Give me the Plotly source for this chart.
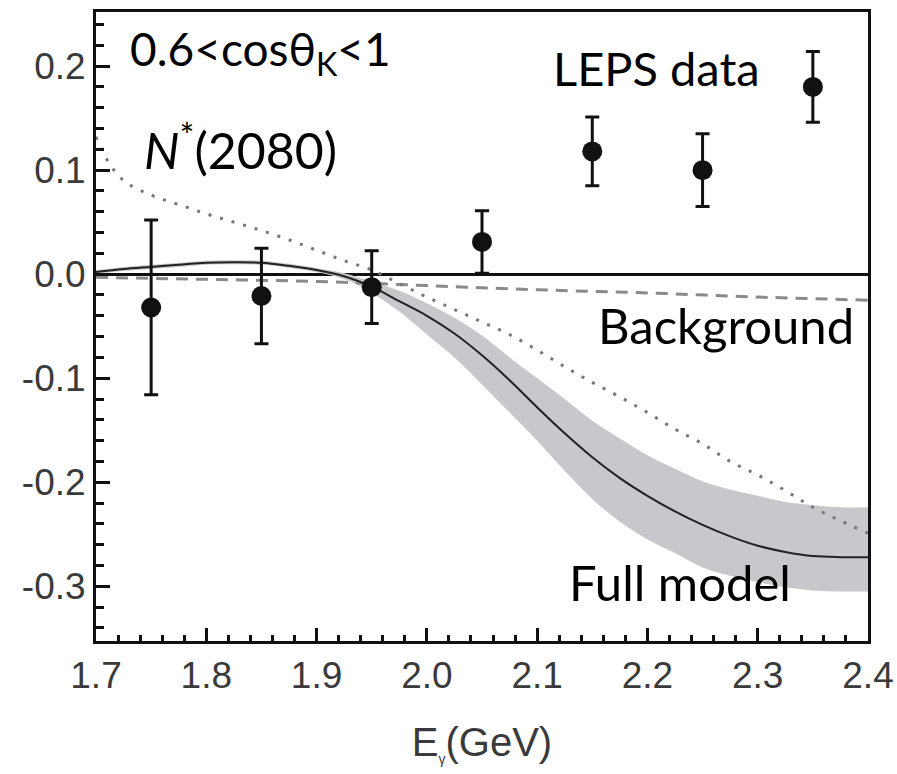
import plotly.graph_objects as go

# ---- data ----
data_E = [1.75, 1.85, 1.95, 2.05, 2.15, 2.25, 2.35]
data_val = [-0.032, -0.021, -0.0125, 0.031, 0.118, 0.100, 0.180]
data_err = [0.084, 0.046, 0.035, 0.030, 0.033, 0.035, 0.034]

E_grid = [1.700, 1.725, 1.750, 1.775, 1.800, 1.825, 1.850, 1.875, 1.900, 1.925,
          1.950, 1.975, 2.000, 2.025, 2.050, 2.075, 2.100, 2.125, 2.150, 2.175,
          2.200, 2.225, 2.250, 2.275, 2.300, 2.325, 2.350, 2.375, 2.400]
full_model = [0.002, 0.005, 0.007, 0.009, 0.011, 0.0115, 0.011, 0.008, 0.004, -0.002,
              -0.012, -0.026, -0.040, -0.057, -0.078, -0.102, -0.128, -0.153, -0.176, -0.196,
              -0.213, -0.228, -0.241, -0.252, -0.261, -0.267, -0.271, -0.272, -0.272]
band_hi = [0.004, 0.007, 0.009, 0.011, 0.013, 0.0135, 0.013, 0.010, 0.006, 0.001,
           -0.007, -0.016, -0.028, -0.042, -0.059, -0.080, -0.100, -0.120, -0.141, -0.158,
           -0.174, -0.187, -0.199, -0.207, -0.213, -0.219, -0.222, -0.224, -0.224]
band_lo = [0.000, 0.003, 0.005, 0.007, 0.009, 0.0095, 0.009, 0.006, 0.002, -0.005,
           -0.018, -0.036, -0.058, -0.080, -0.106, -0.133, -0.160, -0.189, -0.216, -0.238,
           -0.255, -0.268, -0.282, -0.290, -0.296, -0.301, -0.304, -0.305, -0.305]

nstar_E = [1.700, 1.710, 1.725, 1.750, 1.775, 1.800, 1.825, 1.850, 1.875, 1.900,
           1.925, 1.950, 1.975, 2.000, 2.025, 2.050, 2.075, 2.100, 2.125, 2.150,
           2.175, 2.200, 2.225, 2.250, 2.275, 2.300, 2.325, 2.350, 2.375, 2.400]
nstar = [0.132, 0.110, 0.090, 0.076, 0.067, 0.058, 0.050, 0.042, 0.033, 0.023,
         0.013, 0.004, -0.009, -0.022, -0.034, -0.046, -0.058, -0.073, -0.089, -0.104,
         -0.118, -0.133, -0.149, -0.163, -0.180, -0.193, -0.208, -0.224, -0.237, -0.249]

bg_E = [1.70, 1.80, 1.90, 2.00, 2.10, 2.20, 2.30, 2.40]
background = [-0.003, -0.005, -0.007, -0.011, -0.015, -0.018, -0.022, -0.025]

x_ticks = [1.7, 1.8, 1.9, 2.0, 2.1, 2.2, 2.3, 2.4]
x_ticklabels = ["1.7", "1.8", "1.9", "2.0", "2.1", "2.2", "2.3", "2.4"]
y_ticks = [-0.3, -0.2, -0.1, 0.0, 0.1, 0.2]
y_ticklabels = ["-0.3", "-0.2", "-0.1", "0.0", "0.1", "0.2"]

fig = go.Figure()

# band
fig.add_trace(go.Scatter(x=E_grid, y=band_hi, mode="lines", line=dict(width=0, shape="spline"),
                         showlegend=False, hoverinfo="skip"))
fig.add_trace(go.Scatter(x=E_grid, y=band_lo, mode="lines", line=dict(width=0, shape="spline"),
                         fill="tonexty", fillcolor="rgb(200,200,204)", showlegend=False, hoverinfo="skip"))
# background dashed
fig.add_trace(go.Scatter(x=bg_E, y=background, mode="lines",
                         line=dict(color="#8a8a8a", width=3, dash="12px,8px", shape="spline"),
                         showlegend=False))
# N* dotted
fig.add_trace(go.Scatter(x=nstar_E, y=nstar, mode="lines",
                         line=dict(color="#777777", width=3, dash="3px,9px", shape="spline"),
                         showlegend=False))
# full model
fig.add_trace(go.Scatter(x=E_grid, y=full_model, mode="lines",
                         line=dict(color="#222222", width=2, shape="spline"),
                         showlegend=False))
# data
fig.add_trace(go.Scatter(x=data_E, y=data_val, mode="markers",
                         marker=dict(color="#111111", size=20),
                         error_y=dict(type="data", array=data_err, color="#111111", thickness=3, width=7),
                         showlegend=False))

tickfont = dict(family="Liberation Sans", size=37, color="#3a3a3a")
fig.update_layout(
    width=897, height=774,
    margin=dict(l=96, r=29, t=12, b=133, autoexpand=False),
    paper_bgcolor="white", plot_bgcolor="white",
    xaxis=dict(range=[1.7, 2.4], tickvals=x_ticks, ticktext=x_ticklabels, automargin=False,
               ticks="inside", ticklen=13, tickwidth=3, tickcolor="#111",
               showline=True, linecolor="#111", linewidth=3, mirror=True,
               showgrid=False, zeroline=False, tickfont=tickfont,
               minor=dict(dtick=0.02, tick0=1.7, ticks="inside", ticklen=6, tickwidth=3, tickcolor="#111"),
               title=dict(text="E<sub><span style='font-size:14px'>γ</span></sub>(GeV)",
                          font=dict(family="Liberation Sans", size=40, color="#3a3a3a"), standoff=33)),
    yaxis=dict(range=[-0.3526, 0.252], tickvals=y_ticks, ticktext=y_ticklabels, automargin=False,
               ticks="inside", ticklen=14, tickwidth=3, tickcolor="#111",
               showline=True, linecolor="#111", linewidth=3, mirror=True,
               showgrid=False, zeroline=True, zerolinecolor="#111", zerolinewidth=3,
               tickfont=tickfont, ticklabelstandoff=0,
               minor=dict(dtick=0.02, tick0=0, ticks="inside", ticklen=8, tickwidth=3, tickcolor="#111")),
)

def px2paper(x, y):
    return (x - 96) / 772.0, (641 - y) / 629.0

anns = [
    ("0.6&lt;cosθ<sub>K</sub>&lt;1", 128, 52, 46),
    ("<i>N</i><sup>*</sup>(2080)", 142, 146, 50),
    ("LEPS data", 551, 68, 47),
    ("Background", 596, 325, 49),
    ("Full model", 567, 582, 49),
]
for text, x, y, fs in anns:
    px, py = px2paper(x, y)
    fig.add_annotation(text=text, x=px, y=py, xref="paper", yref="paper",
                       xanchor="left", yanchor="middle", showarrow=False,
                       font=dict(family="Lato", size=fs, color="black"))

fig.write_html("out.html")
